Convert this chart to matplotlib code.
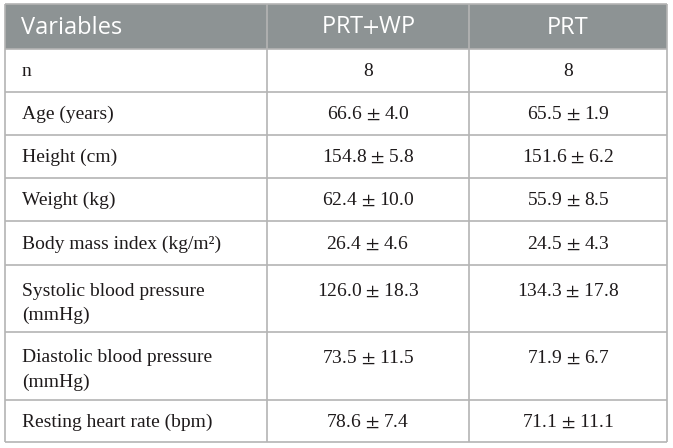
import matplotlib.pyplot as plt
from matplotlib.patches import Rectangle

plt.rcParams['mathtext.fontset'] = 'stix'

headers = ["Variables", r"PRT$+$WP", "PRT"]
variables = ["n", "Age (years)", "Height (cm)", "Weight (kg)",
             "Body mass index (kg/m²)", "Systolic blood pressure\n(mmHg)",
             "Diastolic blood pressure\n(mmHg)", "Resting heart rate (bpm)"]
prt_wp = ["8", "66.6 ± 4.0", "154.8 ± 5.8", "62.4 ± 10.0", "26.4 ± 4.6",
          "126.0 ± 18.3", "73.5 ± 11.5", "78.6 ± 7.4"]
prt = ["8", "65.5 ± 1.9", "151.6 ± 6.2", "55.9 ± 8.5", "24.5 ± 4.3",
       "134.3 ± 17.8", "71.9 ± 6.7", "71.1 ± 11.1"]

# layout in pixels
W, H = 673, 448
x_edges = [5, 267, 469, 667]
y_edges = [4, 49, 92, 135, 178, 221, 265, 332, 400, 442]
line_col = "#b4b4b4"
head_col = "#8d9394"
txt_col = "#1e1a1b"

fig = plt.figure(figsize=(W / 100, H / 100), dpi=100)
ax = fig.add_axes([0, 0, 1, 1])
ax.set_xlim(0, W)
ax.set_ylim(H, 0)
ax.axis("off")

# header band
ax.add_patch(Rectangle((x_edges[0], y_edges[0]), x_edges[-1] - x_edges[0],
                       y_edges[1] - y_edges[0], color=head_col, lw=0))

# grid lines
for y in y_edges:
    ax.plot([x_edges[0], x_edges[-1]], [y, y], color=line_col, lw=1.2,
            solid_capstyle="butt")
for x in x_edges:
    ax.plot([x, x], [y_edges[0], y_edges[-1]], color=line_col, lw=1.2,
            solid_capstyle="butt")


def pm(s):
    # wider plus-minus sign like the original typesetting
    return s.replace(" ± ", r" $\pm$ ")


# header text
hy = (y_edges[0] + y_edges[1]) / 2 + 1
ax.text(x_edges[0] + 16, hy, headers[0], color="white", fontsize=17,
        family="Open Sans", va="center", ha="left")
for i in (1, 2):
    cx = (x_edges[i] + x_edges[i + 1]) / 2
    ax.text(cx, hy, headers[i], color="white", fontsize=17,
            family="Open Sans", va="center", ha="center")

# body
c2 = (x_edges[1] + x_edges[2]) / 2
c3 = (x_edges[2] + x_edges[3]) / 2
for r, name in enumerate(variables):
    top, bot = y_edges[r + 1], y_edges[r + 2]
    lines = name.split("\n")
    if len(lines) == 1:
        ys = [(top + bot) / 2 + 1]
    else:
        ys = [top + 26 + 24 * k for k in range(len(lines))]
    for k, ln in enumerate(lines):
        ax.text(x_edges[0] + 17, ys[k], ln, fontsize=14, family="Liberation Serif",
                color=txt_col, va="center", ha="left")
    ax.text(c2, ys[0], pm(prt_wp[r]), fontsize=14, family="Liberation Serif",
            color=txt_col, va="center", ha="center")
    ax.text(c3, ys[0], pm(prt[r]), fontsize=14, family="Liberation Serif",
            color=txt_col, va="center", ha="center")

fig.savefig("out.png", dpi=100)
